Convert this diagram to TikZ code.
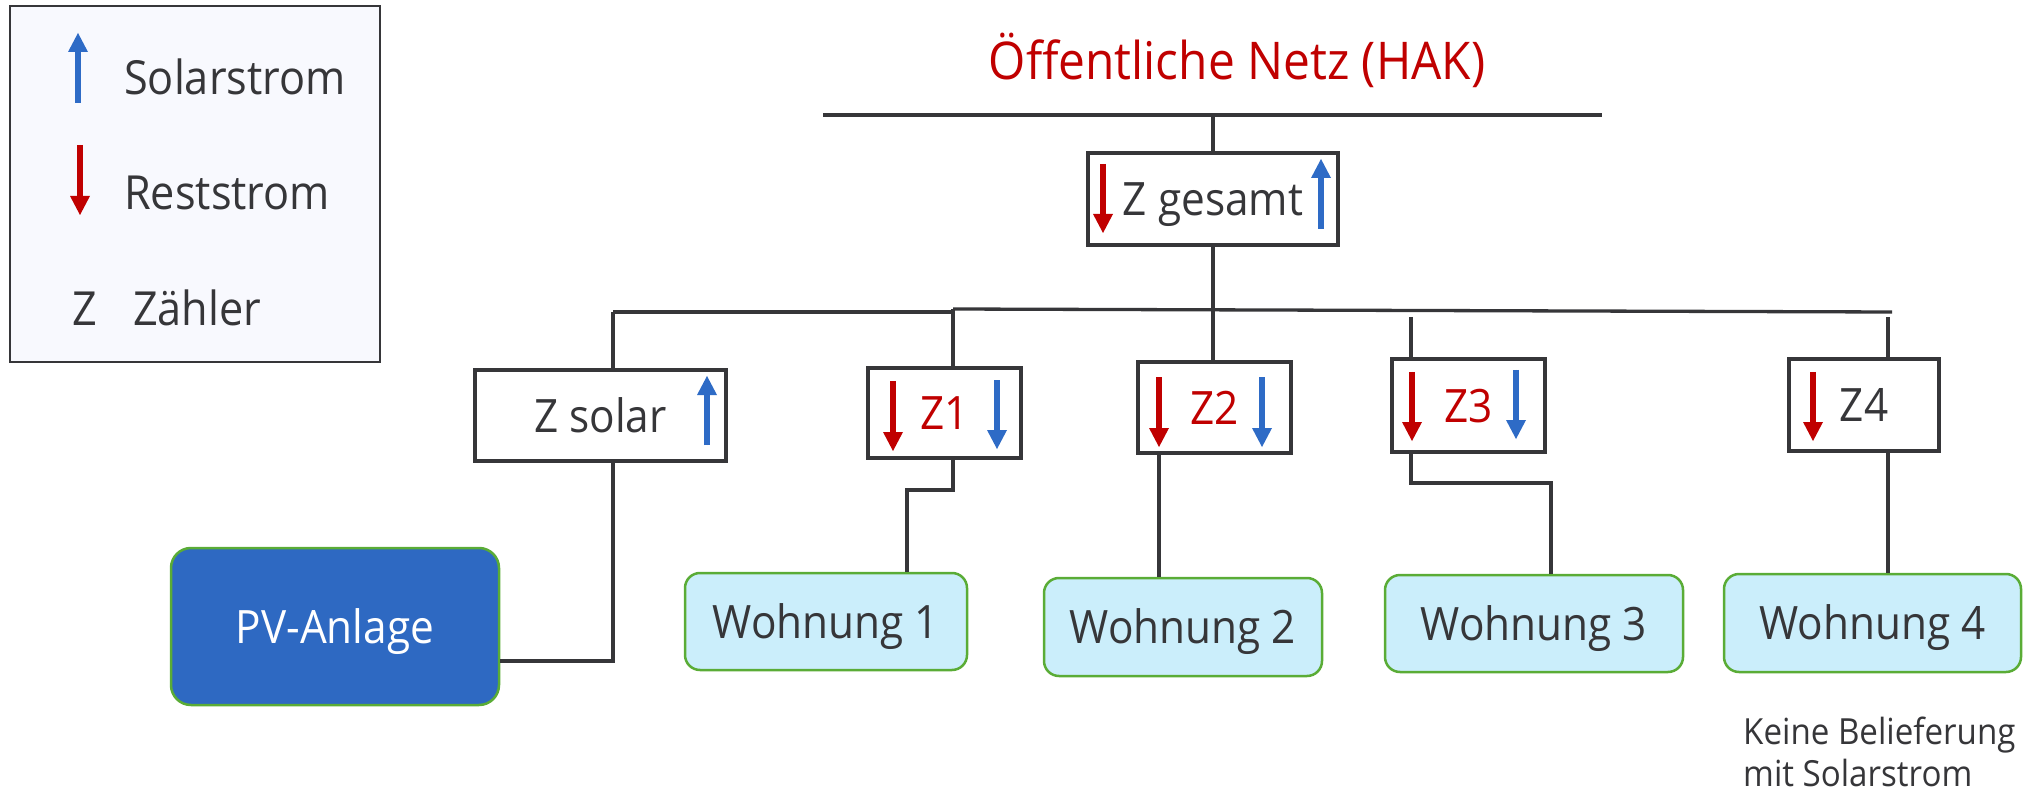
\documentclass[tikz,border=0pt]{standalone}
\usepackage{fontspec}
\setmainfont{Open Sans}[FakeStretch=0.92]
\usetikzlibrary{arrows.meta}
\definecolor{dk}{HTML}{363639}
\definecolor{rd}{HTML}{C00000}
\definecolor{bl}{HTML}{2E6BC6}
\definecolor{wfill}{HTML}{CBEEFB}
\definecolor{wgreen}{HTML}{5AAC36}
\definecolor{pvblue}{HTML}{2E69C2}
\definecolor{legfill}{HTML}{F8F9FE}
\newcommand\bigtxt{\fontsize{46pt}{55pt}\selectfont}
\newcommand\titletxt{\fontsize{52pt}{60pt}\selectfont}
\newcommand\legtxt{\fontsize{47pt}{56pt}\selectfont}
\newcommand\smalltxt{\fontsize{36pt}{42pt}\selectfont}
\begin{document}
\begin{tikzpicture}[x=1pt,y=-1pt,
  conn/.style={draw=dk,line width=3.3pt},
  zbox/.style={draw=dk,line width=3.6pt,fill=white,inner sep=0pt,
    text height=33pt,text depth=0pt,font=\bigtxt,text=dk},
  wbox/.style={draw=wgreen,line width=2.5pt,fill=wfill,rounded corners=15pt,
    inner sep=0pt,text height=33pt,text depth=0pt,font=\bigtxt,text=dk},
  pvbox/.style={draw=wgreen,line width=2.5pt,fill=pvblue,rounded corners=20pt,
    inner sep=0pt,text height=33pt,text depth=0pt,font=\bigtxt,text=white},
  flow/.style={line width=6.5pt,-{Triangle[width=20pt,length=19pt,line width=0pt]}},
  solarflow/.style={flow,draw=bl,fill=bl},
  restflow/.style={flow,draw=rd,fill=rd},
  legtext/.style={anchor=base west,inner sep=0pt,font=\legtxt,text=dk},
  note/.style={anchor=base west,inner sep=0pt,font=\smalltxt,text=dk}
]
\useasboundingbox (0,0) rectangle (2026,791);

% legend
\node[draw=dk,fill=legfill,line width=2.5pt,minimum width=370pt,minimum height=356pt,inner sep=0pt] (leg) at (195,184) {};
\draw[solarflow] (78,103) -- (78,33);
\draw[restflow] (80,145) -- (80,215);
\node[legtext] (l1) at (124,95) {Solarstrom};
\node[legtext] (l2) at (124,210) {Reststrom};
\node[legtext] (l3) at (72,326) {Z};
\node[legtext] (l4) at (133,326) {Zähler};

% title and grid line
\node[anchor=base,inner sep=0pt,font=\titletxt,text=rd] (title) at (1237,80) {Öffentliche Netz (HAK)};
\coordinate (hakL) at (823,115);
\coordinate (hakR) at (1602,115);
\draw[draw=dk,line width=4pt] (hakL) -- (hakR);

% meters
\node[zbox,minimum width=250pt,minimum height=92pt] (zg) at (1213,199) {Z gesamt};
\node[zbox,minimum width=251pt,minimum height=91pt] (zs) at (600.5,415.5) {Z solar};
\node[zbox,minimum width=153pt,minimum height=90pt,text=rd] (z1) at (944.5,413) {Z1};
\node[zbox,minimum width=153pt,minimum height=91pt,text=rd] (z2) at (1214.5,407.5) {Z2};
\node[zbox,minimum width=153pt,minimum height=93pt,text=rd] (z3) at (1468.5,405.5) {Z3};
\node[zbox,minimum width=150pt,minimum height=92pt] (z4) at (1864,405) {Z4};

% consumers
\node[pvbox,minimum width=328pt,minimum height=157pt] (pv) at (335,626.5) {PV-Anlage};
\node[wbox,minimum width=282pt,minimum height=97pt] (w1) at (826,621.5) {Wohnung 1};
\node[wbox,minimum width=278pt,minimum height=98pt] (w2) at (1183,627) {Wohnung 2};
\node[wbox,minimum width=298pt,minimum height=97pt] (w3) at (1534,623.5) {Wohnung 3};
\node[wbox,minimum width=297pt,minimum height=98pt] (w4) at (1872.5,623) {Wohnung 4};

\node[note] (n1) at (1743,744) {Keine Belieferung};
\node[note] (n2) at (1743,786) {mit Solarstrom};

% bus
\coordinate (b0) at (613,312);
\coordinate (b1) at (953,312);
\coordinate (b1u) at (953,309);
\coordinate (bE) at (1892,312);
\coordinate (b3) at (1411,317);
\coordinate (b4) at (1888,317);

\begin{scope}[conn]
\draw (zg.north) -- (zg.north |- hakL);
\draw (zg.south) -- (z2.north -| zg.south);
\draw (b0) -- (b1);
\draw (b1u) -- (bE);
\draw (b0) -- (b0 |- zs.north);
\draw (b0 |- zs.south) |- ([yshift=-34.5pt]pv.east);
\draw (b1u) -- (b1u |- z1.north);
\draw (b1 |- z1.south) -- (953,490) -| (w1.north -| 907,0);
\draw (z2.south -| 1159,0) -- (w2.north -| 1159,0);
\draw (b3) -- (b3 |- z3.north);
\draw (b3 |- z3.south) -- (1411,483) -| (w3.north -| 1551,0);
\draw (b4) -- (b4 |- z4.north);
\draw (b4 |- z4.south) -- (b4 |- w4.north);
\end{scope}

% flow arrows in meters
\draw[restflow] (1103,164) -- (1103,233);
\draw[solarflow] (1321,229) -- (1321,159);
\draw[solarflow] (707,445) -- (707,376);
\draw[restflow] (893,381) -- (893,451);
\draw[solarflow] (997,380) -- (997,449);
\draw[restflow] (1159,377) -- (1159,447);
\draw[solarflow] (1262,377) -- (1262,447);
\draw[restflow] (1412,372) -- (1412,441);
\draw[solarflow] (1516,370) -- (1516,439);
\draw[restflow] (1813,372) -- (1813,441);
\end{tikzpicture}
\end{document}
